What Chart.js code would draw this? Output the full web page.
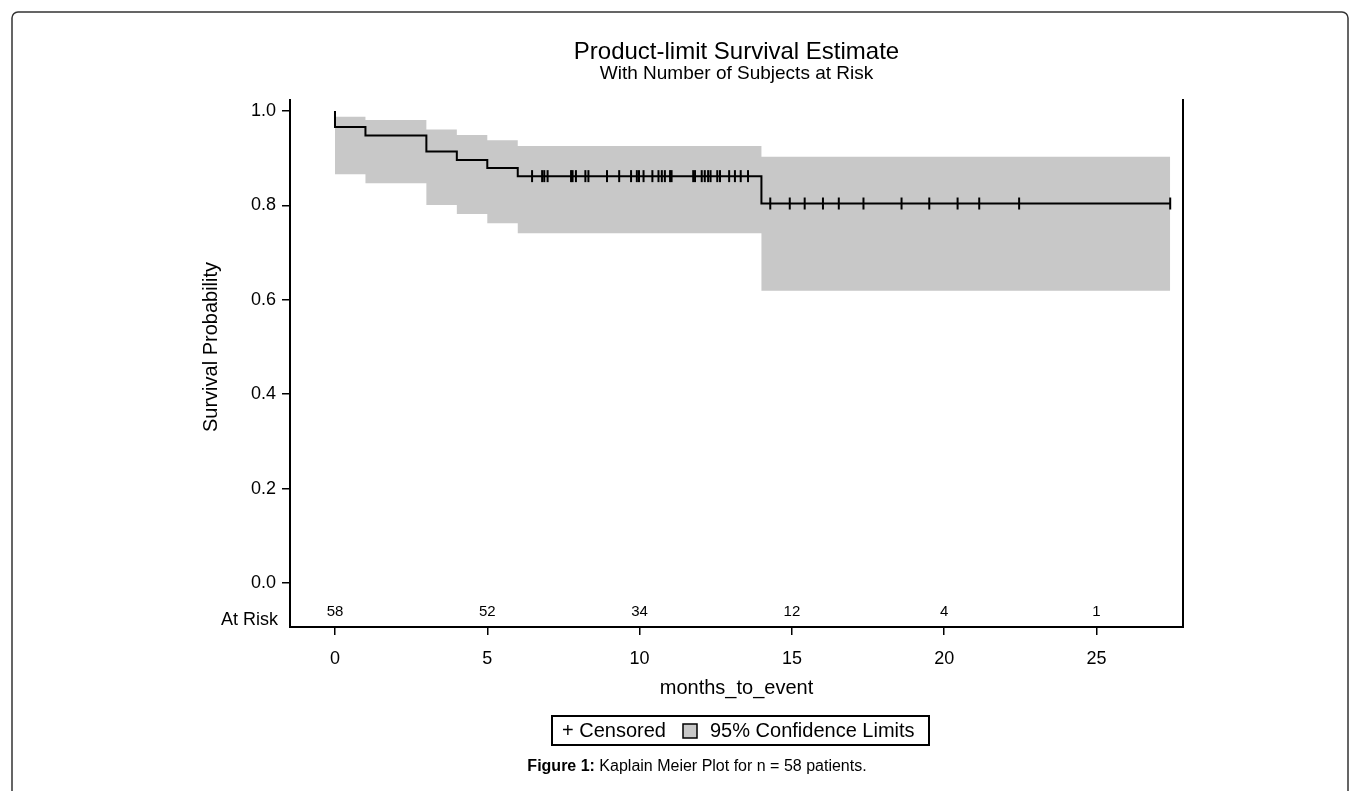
<!DOCTYPE html>
<html>
<head>
<meta charset="utf-8">
<script src="https://cdn.jsdelivr.net/npm/chart.js@4.4.1/dist/chart.umd.min.js"></script>
<style>
  html, body { margin: 0; padding: 0; background: #fff; }
</style>
</head>
<body>
<canvas id="myChart" width="1360" height="791"></canvas>
<script>
// product-limit estimate, one value per step (months)
const stepTimes = [0, 1, 3, 4, 5, 6, 14];
const survival  = [0.966, 0.948, 0.914, 0.896, 0.879, 0.862, 0.804];
const ciUpper   = [0.988, 0.981, 0.961, 0.949, 0.938, 0.926, 0.903];
const ciLower   = [0.866, 0.847, 0.801, 0.782, 0.762, 0.741, 0.619];
const lastTime  = 27.42;

// censored subjects (months)
const censoredTimes = [6.47, 6.80, 6.87, 6.98, 7.75, 7.80, 7.91, 8.22, 8.32, 8.93,
  9.33, 9.72, 9.91, 9.98, 10.13, 10.42, 10.62, 10.73, 10.83, 11.00, 11.05, 11.76,
  11.82, 12.04, 12.14, 12.25, 12.33, 12.55, 12.64, 12.94, 13.13, 13.32, 13.56,
  14.29, 14.93, 15.42, 16.02, 16.54, 17.35, 18.60, 19.51, 20.44, 21.15, 22.46, 27.42];

// number at risk
const riskTimes = [0, 5, 10, 15, 20, 25];
const atRisk = [58, 52, 34, 12, 4, 1];

const xTicks = [0, 5, 10, 15, 20, 25];
const yTicks = [0, 0.2, 0.4, 0.6, 0.8, 1.0];

const FONT = "'Liberation Sans', Arial, sans-serif";

function stepPoints(vals, startVal) {
  let pts = [];
  if (startVal !== undefined) pts.push({x: stepTimes[0], y: startVal});
  for (let i = 0; i < stepTimes.length; i++) {
    let end = i + 1 < stepTimes.length ? stepTimes[i + 1] : lastTime;
    pts.push({x: stepTimes[i], y: vals[i]});
    pts.push({x: end, y: vals[i]});
  }
  return pts;
}

function survivalAt(t) {
  let v = 1;
  for (let i = 0; i < stepTimes.length; i++) {
    if (stepTimes[i] <= t) v = survival[i];
  }
  return v;
}

const extras = {
  id: 'extras',
  afterDraw(chart) {
    const ctx = chart.ctx;
    const x = chart.scales.x, y = chart.scales.y;
    const area = chart.chartArea;
    const cx = (area.left + area.right) / 2;
    ctx.save();

    // outer frame
    ctx.strokeStyle = '#333';
    ctx.lineWidth = 1.5;
    ctx.beginPath();
    ctx.roundRect(12, 12, 1336, 800, 6);
    ctx.stroke();

    ctx.fillStyle = '#000';
    ctx.textAlign = 'center';
    ctx.textBaseline = 'middle';
    ctx.font = '24px ' + FONT;
    ctx.fillText('Product-limit Survival Estimate', cx, 52);
    ctx.font = '19px ' + FONT;
    ctx.fillText('With Number of Subjects at Risk', cx, 74);

    // y axis title
    ctx.save();
    ctx.translate(211, y.getPixelForValue(0.5));
    ctx.rotate(-Math.PI / 2);
    ctx.font = '20px ' + FONT;
    ctx.fillText('Survival Probability', 0, 0);
    ctx.restore();

    // at risk row
    ctx.font = '15px ' + FONT;
    for (let i = 0; i < riskTimes.length; i++) {
      ctx.fillText(String(atRisk[i]), x.getPixelForValue(riskTimes[i]), y.getPixelForValue(-0.062));
    }
    ctx.textAlign = 'right';
    ctx.font = '18px ' + FONT;
    ctx.fillText('At Risk', 278, area.bottom - 7);

    // legend
    ctx.lineWidth = 2;
    ctx.strokeStyle = '#000';
    ctx.strokeRect(552, 716, 377, 29);
    ctx.textAlign = 'left';
    ctx.font = '20px ' + FONT;
    ctx.fillText('+ Censored', 562, 731);
    ctx.fillStyle = '#c8c8c8';
    ctx.fillRect(683, 724, 14, 14);
    ctx.lineWidth = 1.5;
    ctx.strokeRect(683, 724, 14, 14);
    ctx.fillStyle = '#000';
    ctx.fillText('95% Confidence Limits', 710, 731);

    // caption
    const bold = 'Figure 1:', rest = ' Kaplain Meier Plot for n = 58 patients.';
    ctx.font = 'bold 16px ' + FONT;
    const wb = ctx.measureText(bold).width;
    ctx.font = '16px ' + FONT;
    const wr = ctx.measureText(rest).width;
    const sx = 697 - (wb + wr) / 2;
    ctx.font = 'bold 16px ' + FONT;
    ctx.fillText(bold, sx, 767);
    ctx.font = '16px ' + FONT;
    ctx.fillText(rest, sx + wb, 767);

    ctx.restore();
  }
};

const ctx = document.getElementById('myChart').getContext('2d');
const chart = new Chart(ctx, {
  type: 'line',
  data: {
    datasets: [{
      label: 'lower',
      data: stepPoints(ciLower),
      borderWidth: 0,
      borderColor: 'rgba(0,0,0,0)',
      pointRadius: 0,
      fill: false,
      order: 3
    }, {
      label: '95% Confidence Limits',
      data: stepPoints(ciUpper),
      borderWidth: 0,
      borderColor: 'rgba(0,0,0,0)',
      backgroundColor: '#c8c8c8',
      pointRadius: 0,
      fill: '-1',
      order: 2
    }, {
      label: 'Survival',
      data: stepPoints(survival, 1.0),
      borderColor: '#000',
      borderWidth: 2,
      pointRadius: 0,
      fill: false,
      order: 1
    }, {
      label: 'Censored',
      data: censoredTimes.map(t => ({x: t, y: survivalAt(t)})),
      showLine: false,
      pointStyle: 'line',
      rotation: 90,
      pointRadius: 6,
      borderColor: '#000',
      borderWidth: 2,
      order: 0
    }]
  },
  options: {
    responsive: false,
    devicePixelRatio: 1,
    animation: false,
    layout: { padding: { left: 199, right: 177, top: 100, bottom: 91 } },
    plugins: {
      legend: { display: false },
      tooltip: { enabled: false },
      title: { display: false }
    },
    scales: {
      x: {
        type: 'linear',
        min: -1.477,
        max: 27.84,
        afterBuildTicks: s => { s.ticks = xTicks.map(v => ({value: v})); },
        afterFit: s => { s.height = 73; },
        border: { display: true, color: '#000', width: 2 },
        grid: { drawOnChartArea: false, drawTicks: true, tickLength: 8, color: '#000', lineWidth: 1.5 },
        ticks: { color: '#000', font: { family: FONT, size: 18 }, padding: 13, maxRotation: 0,
                 callback: v => String(v) },
        title: { display: true, text: 'months_to_event', color: '#000',
                 font: { family: FONT, size: 20 }, padding: 0 }
      },
      y: {
        type: 'linear',
        min: -0.0932,
        max: 1.0233,
        afterBuildTicks: s => { s.ticks = yTicks.map(v => ({value: v})); },
        afterFit: s => { s.width = 91; },
        border: { display: true, color: '#000', width: 2 },
        grid: { drawOnChartArea: false, drawTicks: true, tickLength: 8, color: '#000', lineWidth: 1.5 },
        ticks: { color: '#000', font: { family: FONT, size: 18 }, padding: 6,
                 callback: v => Number(v).toFixed(1) }
      },
      y2: {
        type: 'linear',
        position: 'right',
        min: 0,
        max: 1,
        afterFit: s => { s.width = 0; },
        border: { display: true, color: '#000', width: 2 },
        grid: { drawOnChartArea: false, drawTicks: false },
        ticks: { display: false }
      }
    }
  },
  plugins: [extras]
});
</script>
</body>
</html>
